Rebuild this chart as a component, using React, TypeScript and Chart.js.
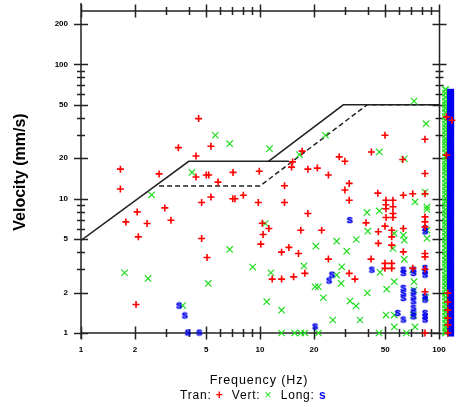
import React, { useEffect, useRef } from 'react';
import { Chart, registerables } from 'chart.js';
Chart.register(...registerables);

// Axis ticks
const xTickValues = [1, 2, 3, 4, 5, 6, 7, 8, 9, 10, 20, 30, 40, 50, 60, 70, 80, 90, 100];
const xMajorLabels = [1, 2, 5, 10, 20, 50, 100];
const yTickValues = [1, 2, 3, 4, 5, 6, 7, 8, 9, 10, 20, 30, 40, 50, 60, 70, 80, 90, 100, 200];
const yMajorLabels = [1, 2, 5, 10, 20, 50, 100, 200];
const xFrameMax = 100; // framed range ends at 100 Hz; readings above are drawn to its right
const xScaleMax = 126;

// Tran (red +)
const tranFreq = [
  4.54, 3.5, 5.32, 4.39, 1.66, 2.73, 4.39, 5.01, 5.17, 7.07,
  9.91, 5.83, 1.66, 5.32, 4.72, 7.04, 7.25, 8.07, 9.78, 2.06,
  2.94, 1.78, 2.34, 3.18, 2.09, 4.72, 5.06, 2.03, 10.3, 11.2,
  10.4, 10.1, 49.9, 41.9, 17.2, 27.7, 29.8, 15.2, 15.0, 18.5,
  20.9, 24.1, 13.7, 31.5, 29.8, 31.5, 45.5, 13.7, 18.5, 39.1,
  50.5, 50.5, 50.5, 55.3, 55.3, 55.3, 63.2, 71.3, 16.9, 22.1,
  49.9, 45.8, 45.8, 54.4, 54.4, 54.4, 13.2, 14.5, 16.4, 24.1,
  41.7, 49.9, 49.9, 54.4, 54.4, 31.5, 33.9, 17.8, 15.4, 11.7,
  13.2, 50.6, 55.3, 63.2, 83.5, 83.5, 83.5, 83.5, 83.5, 83.5,
  83.5, 83.5, 83.5, 83.5, 62.7, 83.5, 63.2, 71.3, 110, 118,
  110, 112, 112, 112, 112, 112, 112,
];
const tranVel = [
  39.5, 24.0, 24.6, 20.8, 16.6, 15.3, 14.5, 15.0, 15.0, 15.7,
  16.0, 13.3, 11.8, 10.3, 9.37, 10.0, 10.0, 10.6, 9.37, 7.98,
  8.54, 6.72, 6.54, 6.92, 5.2, 5.06, 3.65, 1.63, 6.57, 6.0,
  5.42, 4.59, 29.7, 22.3, 22.6, 20.5, 19.0, 18.8, 17.2, 16.6,
  16.9, 15.0, 12.5, 13.0, 11.6, 9.75, 11.0, 9.37, 7.76, 6.61,
  9.75, 9.02, 8.43, 9.75, 8.72, 7.76, 10.6, 10.9, 5.83, 5.83,
  6.25, 5.67, 4.65, 5.83, 5.2, 4.51, 4.0, 4.34, 3.91, 3.55,
  3.55, 3.3, 3.03, 3.3, 3.03, 2.78, 2.52, 2.78, 2.62, 2.52,
  2.52, 7.25, 7.25, 4.02, 3.91, 3.69, 2.98, 2.03, 1.0, 7.32,
  6.72, 6.17, 10.9, 27.7, 19.6, 15.4, 6.0, 3.03, 40.7, 38.4,
  21.1, 1.98, 1.7, 1.48, 1.29, 1.15, 1.0,
];

// Vert (green x)
const vertFreq = [
  5.63, 6.77, 4.17, 2.48, 1.75, 2.37, 6.77, 9.1, 5.14, 3.7,
  11.3, 23.2, 16.6, 46.4, 39.6, 46.4, 10.7, 20.5, 26.8, 30.5,
  34.5, 40.0, 17.6, 11.5, 28.6, 26.8, 28.4, 20.3, 21.2, 22.6,
  46.8, 39.8, 51.0, 10.9, 13.2, 31.8, 34.4, 25.5, 36.2, 50.6,
  13.2, 15.6, 16.9, 17.8, 21.2, 46.2, 65.7, 72.5, 84.6, 64.0,
  83.5, 73.4, 85.6, 85.6, 56.2, 63.2, 64.0, 55.3, 64.0, 85.6,
  85.6, 71.3, 72.5, 72.5, 56.2, 84.0, 56.2, 71.9, 56.2, 73.4,
];
const vertVel = [
  29.7, 25.7, 15.7, 10.7, 2.81, 2.55, 4.19, 3.1, 2.34, 1.6,
  23.6, 29.7, 21.3, 22.3, 7.9, 8.11, 6.54, 4.43, 4.83, 4.07,
  4.97, 5.73, 3.16, 2.81, 3.11, 2.7, 2.34, 2.21, 2.21, 1.83,
  2.83, 1.99, 2.12, 1.71, 1.48, 1.73, 1.59, 1.25, 1.25, 1.36,
  1.0, 1.0, 1.0, 1.0, 1.0, 1.0, 1.0, 53.3, 36.2, 19.8,
  11.2, 9.47, 8.69, 8.31, 5.51, 5.35, 4.91, 4.26, 3.53, 5.83,
  5.06, 2.94, 2.41, 2.09, 2.41, 1.84, 1.36, 1.36, 1.11, 1.11,
];

// Long (blue s)
const longFreq = [
  3.53, 3.8, 3.95, 4.58, 31.7, 25.2, 24.3, 42.1, 20.3, 83.5,
  83.5, 63.2, 63.2, 71.9, 71.9, 83.5, 83.5, 83.5, 63.2, 63.2,
  63.2, 71.9, 71.9, 71.9, 71.9, 71.9, 71.9, 83.5, 83.5, 83.5,
  83.5, 83.5, 63.2, 58.8,
];
const longVel = [
  1.59, 1.34, 1.0, 1.0, 6.88, 2.7, 2.44, 2.94, 1.11, 6.0,
  5.67, 2.94, 2.78, 2.94, 2.78, 3.03, 2.86, 2.7, 2.15, 1.97,
  1.81, 2.03, 1.86, 1.71, 1.53, 1.4, 1.32, 1.86, 1.76, 1.4,
  1.32, 1.25, 1.25, 1.4,
];

// Readings above 100 Hz (dense columns)
const vertColumnFreq = 108.7;
const vertColumnVel = [
  65, 61, 57, 53, 50, 47, 44, 41, 38.5, 36, 34, 32, 30, 28, 26.5, 25, 23.5, 22, 20.5, 19.2,
  18, 17, 16, 15, 14, 13.1, 12.3, 11.5, 10.8, 10.1, 9.5, 8.9, 8.3, 7.8, 7.3, 6.8, 6.4, 6.0,
  5.6, 5.25, 4.9, 4.6, 4.3, 4.0, 3.75, 3.5, 3.3, 3.1, 2.9, 2.7, 2.55, 2.4, 2.25, 2.1, 1.97,
  1.85, 1.73, 1.62, 1.52, 1.43, 1.34, 1.26, 1.18, 1.1, 1.04, 1.0,
];
const longColumnFreq = 116;
const longColumnVel = [
  62, 58, 54, 51, 48, 45, 42, 39.5, 37, 35, 33, 31, 29, 27, 25.5, 24, 22.5, 21, 19.8, 18.5,
  17.4, 16.4, 15.4, 14.5, 13.6, 12.7, 11.9, 11.2, 10.5, 9.8, 9.2, 8.6, 8.1, 7.6, 7.1, 6.6,
  6.2, 5.8, 5.4, 5.1, 4.75, 4.45, 4.15, 3.9, 3.65, 3.4, 3.2, 3.0, 2.8, 2.62, 2.46, 2.32,
  2.18, 2.04, 1.91, 1.79, 1.68, 1.57, 1.47, 1.38, 1.29, 1.21, 1.13, 1.06, 1.0,
];

// Limit curves
const solidAFreq = [1, 4, 14.5];
const solidAVel = [4.9, 19, 19];
const solidBFreq = [11.1, 29.2, 100];
const solidBVel = [18.9, 50, 50];
const dashFreq = [2.73, 10, 39.6, 100];
const dashVel = [12.45, 12.45, 50, 50];

const RED = '#ff0000';
const GREEN = '#22dd22';
const BLUE = '#0000ee';
const FONT = '"Liberation Sans", Arial, sans-serif';

const pts = (fx: number[], vy: number[]) => fx.map((f, i) => ({ x: f, y: vy[i] }));
const col = (f: number, vy: number[]) => vy.map((v) => ({ x: f, y: v }));

function makeSGlyph(color: string) {
  const c = document.createElement('canvas');
  c.width = 8;
  c.height = 9;
  const g = c.getContext('2d')!;
  g.fillStyle = color;
  g.strokeStyle = color;
  g.lineWidth = 0.6;
  g.font = 'bold 11px ' + FONT;
  g.textAlign = 'center';
  g.textBaseline = 'middle';
  g.fillText('s', 4, 4);
  g.strokeText('s', 4, 4);
  return c;
}

const noPad = (s: any) => {
  s.paddingLeft = 0;
  s.paddingRight = 0;
  s.paddingTop = 0;
  s.paddingBottom = 0;
};

const framePlugin = {
  id: 'frame',
  beforeDatasetsDraw(chart: any) {
    const { ctx, chartArea, scales } = chart;
    const { left, top, bottom } = chartArea;
    const x = scales.x;
    const y = scales.y;
    const right = Math.round(x.getPixelForValue(xFrameMax)) + 0.5;
    ctx.save();
    ctx.strokeStyle = '#222';
    ctx.lineWidth = 1.5;
    ctx.beginPath();
    ctx.moveTo(left, top - 8);
    ctx.lineTo(left, bottom + 6);
    ctx.moveTo(left, top);
    ctx.lineTo(right, top);
    ctx.lineTo(right, bottom + 5);
    ctx.moveTo(left, bottom);
    ctx.lineTo(right, bottom);
    xTickValues.forEach((v) => {
      const px = Math.round(x.getPixelForValue(v)) + 0.5;
      const a = xMajorLabels.includes(v) ? 6.5 : 4;
      ctx.moveTo(px, bottom - a);
      ctx.lineTo(px, bottom + a);
      ctx.moveTo(px, top - a);
      ctx.lineTo(px, top + a);
    });
    yTickValues.forEach((v) => {
      const py = Math.round(y.getPixelForValue(v)) + 0.5;
      const major = yMajorLabels.includes(v);
      const a = major ? 7 : 4;
      ctx.moveTo(left - a, py);
      ctx.lineTo(left + a, py);
      ctx.moveTo(right - a, py);
      ctx.lineTo(right + a, py);
    });
    ctx.stroke();
    ctx.restore();
  },
};

export default function App() {
  const ref = useRef<HTMLCanvasElement>(null);
  useEffect(() => {
    const canvas = ref.current!;
    const sImg = makeSGlyph(BLUE);
    const chart = new Chart(canvas, {
      type: 'scatter',
      data: {
        datasets: [
          {
            label: 'Tran',
            data: pts(tranFreq, tranVel),
            pointStyle: 'cross',
            pointRadius: 3.5,
            borderColor: RED,
            backgroundColor: RED,
            borderWidth: 1.6,
            clip: false,
          } as any,
          {
            label: 'Long',
            data: pts(longFreq, longVel),
            pointStyle: sImg,
            pointRadius: 4,
            clip: false,
          },
          {
            label: 'Long >100',
            data: col(longColumnFreq, longColumnVel),
            pointStyle: 'rect',
            pointRadius: 5,
            borderColor: BLUE,
            backgroundColor: BLUE,
            borderWidth: 0,
            clip: false,
          },
          {
            label: 'Vert',
            data: pts(vertFreq, vertVel),
            pointStyle: 'crossRot',
            pointRadius: 4.5,
            borderColor: GREEN,
            backgroundColor: GREEN,
            borderWidth: 1.2,
            clip: false,
          },
          {
            label: 'Vert >100',
            data: col(vertColumnFreq, vertColumnVel),
            pointStyle: 'crossRot',
            pointRadius: 4.5,
            borderColor: GREEN,
            backgroundColor: GREEN,
            borderWidth: 1.5,
            clip: false,
          },
          {
            label: 'Limit A',
            data: pts(solidAFreq, solidAVel),
            showLine: true,
            pointRadius: 0,
            borderColor: '#222',
            borderWidth: 1.5,
            fill: false,
          },
          {
            label: 'Limit B',
            data: pts(solidBFreq, solidBVel),
            showLine: true,
            pointRadius: 0,
            borderColor: '#222',
            borderWidth: 1.5,
            fill: false,
          },
          {
            label: 'Limit C',
            data: pts(dashFreq, dashVel),
            showLine: true,
            pointRadius: 0,
            borderColor: '#222',
            borderWidth: 1.5,
            borderDash: [5, 3],
            fill: false,
          },
        ],
      },
      options: {
        animation: false,
        responsive: false,
        maintainAspectRatio: false,
        events: [],
        layout: { autoPadding: false, padding: { top: 11, right: 0, left: 0, bottom: 0 } },
        plugins: { legend: { display: false }, tooltip: { enabled: false } },
        scales: {
          x: {
            type: 'logarithmic',
            position: 'bottom',
            min: 1,
            max: xScaleMax,
            grid: { display: false, drawTicks: false },
            border: { display: false },
            afterBuildTicks: (s: any) => {
              s.ticks = xTickValues.map((v) => ({ value: v }));
            },
            afterFit: (s: any) => {
              s.height = 74;
              noPad(s);
            },
            ticks: {
              autoSkip: false,
              maxRotation: 0,
              padding: 12,
              color: '#000',
              font: { family: FONT, size: 8, weight: 'bold' },
              callback: (v: any) => (xMajorLabels.includes(Number(v)) ? String(v) : ''),
            },
          },
          y: {
            type: 'logarithmic',
            position: 'left',
            min: 1,
            max: 250,
            grid: { display: false, drawTicks: false },
            border: { display: false },
            afterBuildTicks: (s: any) => {
              s.ticks = yTickValues.map((v) => ({ value: v }));
            },
            afterFit: (s: any) => {
              s.width = 81;
              noPad(s);
            },
            ticks: {
              autoSkip: false,
              padding: 13,
              color: '#000',
              font: { family: FONT, size: 8, weight: 'bold' },
              callback: (v: any) => (yMajorLabels.includes(Number(v)) ? String(v) : ''),
            },
            title: {
              display: true,
              text: 'Velocity (mm/s)',
              color: '#000',
              font: { family: FONT, size: 16, weight: 'bold' },
              padding: { top: 11, bottom: 0 },
            },
          },
        },
      } as any,
      plugins: [framePlugin],
    });
    return () => chart.destroy();
  }, []);

  return (
    <div style={{ position: 'absolute', left: 0, top: 0, width: 457, height: 407, background: '#fff' }}>
      <canvas ref={ref} width={457} height={407} style={{ display: 'block', width: 457, height: 407 }} />
      <div
        style={{
          position: 'absolute',
          left: 0,
          top: 373,
          width: 518,
          textAlign: 'center',
          whiteSpace: 'nowrap',
          fontFamily: FONT,
          fontSize: 12.5,
          lineHeight: '15px',
          letterSpacing: 0.9,
          color: '#000',
        }}
      >
        Frequency (Hz)
      </div>
      <div
        style={{
          position: 'absolute',
          left: 180,
          top: 388,
          whiteSpace: 'nowrap',
          fontFamily: FONT,
          fontSize: 12,
          lineHeight: '15px',
          letterSpacing: 0.8,
          color: '#000',
        }}
      >
        Tran: <span style={{ color: RED, fontWeight: 'bold' }}>+</span>&nbsp; Vert:{' '}
        <span style={{ color: GREEN }}>×</span>&nbsp; Long:{' '}
        <span style={{ color: BLUE, fontWeight: 'bold' }}>s</span>
      </div>
    </div>
  );
}
